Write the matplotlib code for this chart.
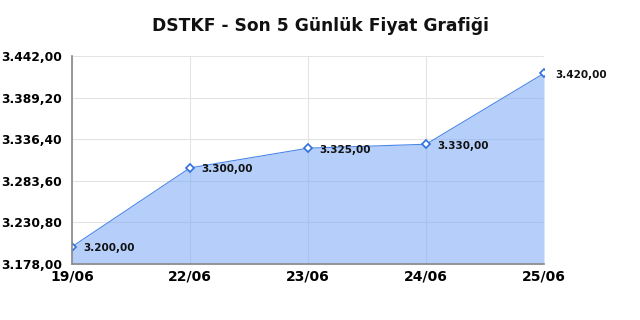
import numpy as np
import matplotlib
matplotlib.use("Agg")
import matplotlib.pyplot as plt

dates = ["19/06", "22/06", "23/06", "24/06", "25/06"]
prices = [3200.00, 3300.00, 3325.00, 3330.00, 3420.00]
yticks = [3178.00, 3230.80, 3283.60, 3336.40, 3389.20, 3442.00]


def tr_fmt(v):
    s = "{:,.2f}".format(v)
    return s.replace(",", "X").replace(".", ",").replace("X", ".")


fig = plt.figure(figsize=(6.4, 3.2), dpi=100)
ax = fig.add_axes([0.1125, 0.175, 0.7375, 0.65])

x = np.arange(len(dates))
# semi transparent fill so the grid shows through as slightly darker lines
ax.fill_between(x, prices, yticks[0], color=(133/255, 175/255, 247/255),
                alpha=0.6, lw=0, zorder=2)
ax.plot(x, prices, color="#4a86e8", lw=0.8, zorder=3)
ax.plot(x, prices, ls="none", marker="D", ms=4, mfc="white", mec="#2f6fe0",
        mew=1.2, zorder=4)

for xi, p in zip(x, prices):
    ax.annotate(tr_fmt(p), (xi, p), xytext=(8, -1), textcoords="offset points",
                ha="left", va="center", fontsize=7.5, fontweight="bold",
                color="#111111", zorder=5)

ax.set_xlim(0, len(dates) - 1)
ax.set_ylim(yticks[0], yticks[-1])
ax.set_xticks(x)
ax.set_xticklabels(dates, fontsize=10, fontweight="bold")
ax.set_yticks(yticks)
ax.set_yticklabels([tr_fmt(v) for v in yticks], fontsize=8.8, fontweight="bold")
ax.tick_params(axis="y", length=0, pad=7)
ax.tick_params(axis="x", length=0, pad=4)
ax.grid(True, color="#e3e3e3", lw=0.8, zorder=0)
ax.set_axisbelow(True)
for s in ["top", "right"]:
    ax.spines[s].set_visible(False)
for s in ["left", "bottom"]:
    ax.spines[s].set_color("#888888")
    ax.spines[s].set_linewidth(1.2)
    ax.spines[s].set_zorder(6)

fig.text(0.5, 0.92, "DSTKF - Son 5 Günlük Fiyat Grafiği", ha="center",
         va="center", fontsize=12.3, fontweight="bold", color="#111111")

fig.savefig("out.png")
